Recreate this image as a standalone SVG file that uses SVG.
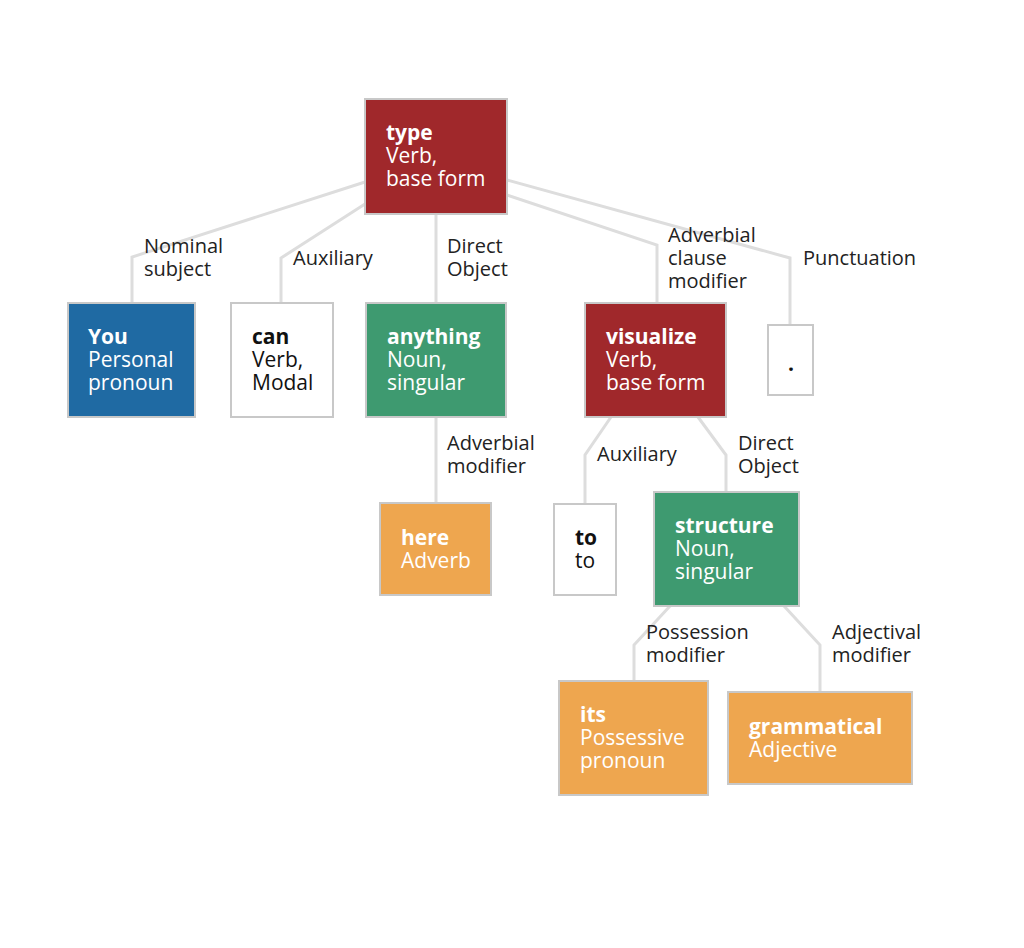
<svg xmlns="http://www.w3.org/2000/svg" width="1024" height="948" viewBox="0 0 1024 948">
<style>
text{font-family:"Open Sans","Noto Sans",sans-serif;font-size:21px}
.b{stroke:#c8c8c8;stroke-width:2}
.w{fill:#fff}.wt{fill:#fff}.k{fill:#111}
.bold{font-weight:bold}
.lbl{font-size:20px;fill:#222}
#edges polyline{fill:none;stroke:#ddd;stroke-width:3}
</style>
<rect width="1024" height="948" fill="#fff"/>
<g id="edges">
<polyline points="365,182 132,257 132,303"/>
<polyline points="365,204 281,258 281,303"/>
<polyline points="436,214 436,303"/>
<polyline points="507,195 657,245 657,303"/>
<polyline points="507,180 790,258 790,325"/>
<polyline points="436,417 436,503"/>
<polyline points="611,417 585,455 585,504"/>
<polyline points="698,417 726,455 726,492"/>
<polyline points="670,606 634,645 634,681"/>
<polyline points="784,606 820,645 820,692"/>
<text class="lbl" x="144" y="253">Nominal</text><text class="lbl" x="144" y="276">subject</text>
<text class="lbl" x="293" y="265">Auxiliary</text>
<text class="lbl" x="447" y="253">Direct</text><text class="lbl" x="447" y="276">Object</text>
<text class="lbl" x="668" y="242">Adverbial</text><text class="lbl" x="668" y="265">clause</text><text class="lbl" x="668" y="288">modifier</text>
<text class="lbl" x="803" y="265">Punctuation</text>
<text class="lbl" x="447" y="450">Adverbial</text><text class="lbl" x="447" y="473">modifier</text>
<text class="lbl" x="597" y="461">Auxiliary</text>
<text class="lbl" x="738" y="450">Direct</text><text class="lbl" x="738" y="473">Object</text>
<text class="lbl" x="646" y="639">Possession</text><text class="lbl" x="646" y="662">modifier</text>
<text class="lbl" x="832" y="639">Adjectival</text><text class="lbl" x="832" y="662">modifier</text>
</g>
<g id="type"><rect class="b" x="365" y="99" width="142" height="115" fill="#a0282b"/><text class="wt bold" x="386" y="140">type</text><text class="wt" x="386" y="163">Verb,</text><text class="wt" x="386" y="186">base form</text></g>
<g id="you"><rect class="b" x="68" y="303" width="127" height="114" fill="#1f6aa3"/><text class="wt bold" x="88" y="344">You</text><text class="wt" x="88" y="367">Personal</text><text class="wt" x="88" y="390">pronoun</text></g>
<g id="can"><rect class="b" x="231" y="303" width="102" height="114" fill="#fff"/><text class="k bold" x="252" y="344">can</text><text class="k" x="252" y="367">Verb,</text><text class="k" x="252" y="390">Modal</text></g>
<g id="anything"><rect class="b" x="366" y="303" width="140" height="114" fill="#3e9a70"/><text class="wt bold" x="387" y="344">anything</text><text class="wt" x="387" y="367">Noun,</text><text class="wt" x="387" y="390">singular</text></g>
<g id="visualize"><rect class="b" x="585" y="303" width="141" height="114" fill="#a0282b"/><text class="wt bold" x="606" y="344">visualize</text><text class="wt" x="606" y="367">Verb,</text><text class="wt" x="606" y="390">base form</text></g>
<g id="period"><rect class="b" x="768" y="325" width="45" height="70" fill="#fff"/><text class="k bold" x="788" y="371">.</text></g>
<g id="here"><rect class="b" x="380" y="503" width="111" height="92" fill="#eea64f"/><text class="wt bold" x="401" y="545">here</text><text class="wt" x="401" y="568">Adverb</text></g>
<g id="to"><rect class="b" x="554" y="504" width="62" height="91" fill="#fff"/><text class="k bold" x="575" y="545">to</text><text class="k" x="575" y="568">to</text></g>
<g id="structure"><rect class="b" x="654" y="492" width="145" height="114" fill="#3e9a70"/><text class="wt bold" x="675" y="533">structure</text><text class="wt" x="675" y="556">Noun,</text><text class="wt" x="675" y="579">singular</text></g>
<g id="its"><rect class="b" x="559" y="681" width="149" height="114" fill="#eea64f"/><text class="wt bold" x="580" y="722">its</text><text class="wt" x="580" y="745">Possessive</text><text class="wt" x="580" y="768">pronoun</text></g>
<g id="grammatical"><rect class="b" x="728" y="692" width="184" height="92" fill="#eea64f"/><text class="wt bold" x="749" y="734">grammatical</text><text class="wt" x="749" y="757">Adjective</text></g>
</svg>
